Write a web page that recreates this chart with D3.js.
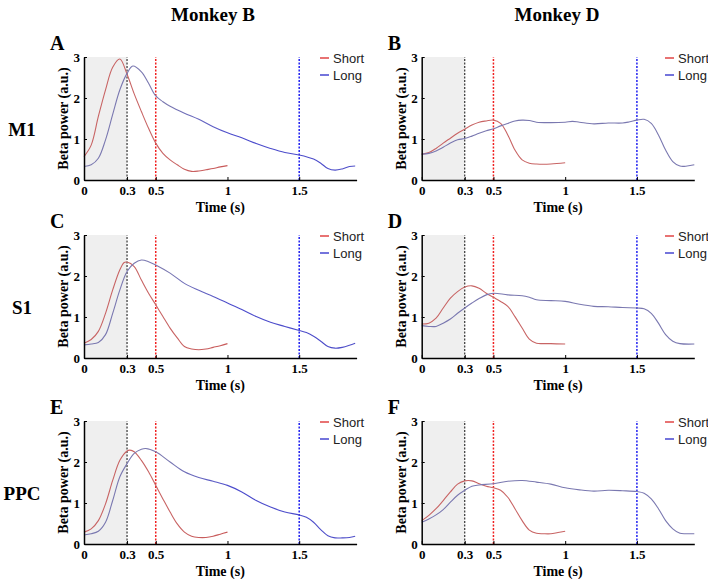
<!DOCTYPE html>
<html><head><meta charset="utf-8">
<script src="https://cdn.jsdelivr.net/npm/d3@7"></script>
<style>
body{margin:0;background:#fff;}
svg{display:block;}
</style></head>
<body>
<svg id="chart" width="708" height="579"></svg>
<script>
const monkeys = ["Monkey B", "Monkey D"];
const regions = ["M1", "S1", "PPC"];
const panelLetters = ["A", "B", "C", "D", "E", "F"];
const seriesNames = ["Short", "Long"];
const xTicks = [0, 0.3, 0.5, 1, 1.5];
const xTickLabels = ["0", "0.3", "0.5", "1", "1.5"];
const yTicks = [0, 1, 2, 3];
const markers = [0.3, 0.5, 1.5];

// Short series [time, value]
const shortA = [[0,0.57],[0.05,0.85],[0.1,1.55],[0.15,2.2],[0.2,2.75],[0.25,2.95],[0.3,2.58],[0.35,2.1],[0.4,1.67],[0.45,1.26],[0.5,0.9],[0.55,0.65],[0.6,0.49],[0.65,0.37],[0.7,0.26],[0.75,0.21],[0.8,0.22],[0.85,0.25],[0.9,0.28],[0.95,0.32],[1.0,0.35]];
const longA = [[0,0.33],[0.05,0.37],[0.1,0.53],[0.15,0.98],[0.2,1.6],[0.25,2.2],[0.3,2.6],[0.34,2.78],[0.4,2.64],[0.45,2.36],[0.5,2.05],[0.55,1.91],[0.6,1.8],[0.7,1.63],[0.8,1.48],[0.9,1.3],[1.0,1.15],[1.1,1.03],[1.2,0.89],[1.3,0.77],[1.4,0.67],[1.5,0.61],[1.6,0.51],[1.65,0.41],[1.7,0.28],[1.75,0.24],[1.8,0.27],[1.85,0.33],[1.89,0.34]];
const shortB = [[0,0.63],[0.05,0.67],[0.1,0.77],[0.15,0.9],[0.2,1.02],[0.25,1.14],[0.3,1.24],[0.35,1.34],[0.4,1.41],[0.45,1.44],[0.5,1.46],[0.55,1.38],[0.6,1.1],[0.65,0.73],[0.7,0.49],[0.75,0.41],[0.8,0.39],[0.9,0.39],[1.0,0.42]];
const longB = [[0,0.63],[0.05,0.65],[0.1,0.71],[0.15,0.8],[0.2,0.9],[0.25,0.98],[0.3,1.01],[0.35,1.07],[0.4,1.14],[0.45,1.2],[0.5,1.25],[0.55,1.32],[0.6,1.38],[0.65,1.44],[0.7,1.46],[0.75,1.45],[0.8,1.41],[0.9,1.4],[1.0,1.41],[1.05,1.43],[1.1,1.41],[1.2,1.37],[1.3,1.39],[1.4,1.39],[1.45,1.42],[1.5,1.46],[1.55,1.48],[1.6,1.38],[1.65,1.1],[1.7,0.73],[1.75,0.45],[1.8,0.34],[1.85,0.34],[1.9,0.37]];
const shortC = [[0,0.36],[0.05,0.45],[0.1,0.65],[0.15,1.09],[0.2,1.66],[0.25,2.15],[0.28,2.33],[0.3,2.34],[0.35,2.23],[0.4,1.9],[0.45,1.58],[0.5,1.3],[0.55,1.01],[0.6,0.73],[0.65,0.49],[0.7,0.28],[0.75,0.22],[0.8,0.2],[0.85,0.22],[0.9,0.26],[0.95,0.3],[1.0,0.35]];
const longC = [[0,0.32],[0.05,0.34],[0.1,0.38],[0.15,0.57],[0.2,1.09],[0.25,1.66],[0.3,2.11],[0.35,2.31],[0.4,2.39],[0.45,2.35],[0.5,2.27],[0.6,2.07],[0.7,1.82],[0.8,1.65],[0.9,1.5],[1.0,1.34],[1.1,1.18],[1.2,1.01],[1.3,0.87],[1.4,0.77],[1.5,0.67],[1.55,0.62],[1.6,0.53],[1.65,0.41],[1.7,0.28],[1.75,0.24],[1.8,0.26],[1.85,0.31],[1.89,0.36]];
const shortD = [[0,0.83],[0.05,0.85],[0.1,0.97],[0.15,1.22],[0.2,1.46],[0.25,1.62],[0.3,1.73],[0.35,1.76],[0.4,1.7],[0.45,1.58],[0.5,1.48],[0.55,1.38],[0.6,1.26],[0.65,1.01],[0.7,0.73],[0.75,0.46],[0.8,0.36],[0.85,0.35],[0.9,0.35],[1.0,0.34]];
const longD = [[0,0.79],[0.05,0.77],[0.1,0.77],[0.15,0.85],[0.2,0.95],[0.25,1.09],[0.3,1.22],[0.35,1.34],[0.4,1.45],[0.45,1.54],[0.5,1.58],[0.6,1.54],[0.7,1.52],[0.75,1.48],[0.8,1.42],[0.9,1.4],[1.0,1.38],[1.1,1.31],[1.2,1.26],[1.3,1.25],[1.4,1.23],[1.5,1.22],[1.55,1.2],[1.6,1.09],[1.65,0.85],[1.7,0.57],[1.75,0.41],[1.8,0.35],[1.9,0.34]];
const shortE = [[0,0.29],[0.05,0.37],[0.1,0.57],[0.15,0.98],[0.2,1.55],[0.25,2.04],[0.3,2.27],[0.32,2.29],[0.35,2.25],[0.4,2.04],[0.45,1.76],[0.5,1.43],[0.55,1.1],[0.6,0.78],[0.65,0.49],[0.7,0.29],[0.75,0.19],[0.8,0.16],[0.85,0.16],[0.9,0.19],[0.95,0.24],[1.0,0.29]];
const longE = [[0,0.22],[0.05,0.25],[0.1,0.31],[0.15,0.53],[0.2,1.06],[0.25,1.64],[0.3,1.96],[0.35,2.21],[0.4,2.31],[0.43,2.33],[0.5,2.25],[0.6,2.0],[0.7,1.76],[0.8,1.62],[0.9,1.53],[1.0,1.43],[1.1,1.27],[1.2,1.06],[1.3,0.9],[1.4,0.78],[1.5,0.71],[1.55,0.65],[1.6,0.53],[1.65,0.35],[1.7,0.2],[1.75,0.15],[1.8,0.15],[1.85,0.16],[1.89,0.19]];
const shortF = [[0,0.57],[0.05,0.7],[0.1,0.86],[0.15,1.06],[0.2,1.27],[0.25,1.46],[0.3,1.54],[0.35,1.54],[0.4,1.47],[0.45,1.41],[0.5,1.37],[0.55,1.31],[0.6,1.14],[0.65,0.86],[0.7,0.57],[0.75,0.34],[0.8,0.26],[0.85,0.25],[0.9,0.25],[0.95,0.28],[1.0,0.31]];
const longF = [[0,0.53],[0.05,0.61],[0.1,0.71],[0.15,0.84],[0.2,1.02],[0.25,1.19],[0.3,1.31],[0.35,1.41],[0.4,1.44],[0.5,1.47],[0.6,1.53],[0.7,1.55],[0.8,1.51],[0.9,1.46],[1.0,1.37],[1.1,1.32],[1.2,1.29],[1.3,1.31],[1.4,1.3],[1.5,1.28],[1.55,1.24],[1.6,1.1],[1.65,0.86],[1.7,0.57],[1.75,0.37],[1.8,0.26],[1.85,0.25],[1.9,0.25]];

const panelData = [
  [shortA, longA], [shortB, longB],
  [shortC, longC], [shortD, longD],
  [shortE, longE], [shortF, longF]
];

const svg = d3.select("#chart");
const defs = svg.append("defs");
const serif = "'Liberation Serif', 'Times New Roman', serif";
const sans = "'Liberation Sans', Arial, sans-serif";

const colX = [84, 421.7];
const plotW = 272.6;
const rowTop = [57, 235, 421];
const plotH = 123;
const legendX = [320, 665];
const legendColors = ["#e04444", "#4646d0"];
const markerColors = ["#222", "#f02020", "#2020f0"];
const titleCenters = [213, 557];
const shortStops = [[0, "#c86464"], [0.4, "#c85858"], [0.6, "#a87070"], [0.8, "#8c7878"], [1.0, "#8c7c7c"]];
const longStops = [[0, "#7a78b0"], [0.3, "#5e5ec4"], [0.45, "#4a4acc"], [1.45, "#5050c8"], [1.65, "#7a7aa8"], [1.9, "#888898"]];
const stopSets = [shortStops, longStops];

monkeys.forEach((m, i) => {
  svg.append("text").attr("x", titleCenters[i]).attr("y", 21)
    .attr("text-anchor", "middle").attr("font-family", serif)
    .attr("font-weight", "bold").attr("font-size", 19).text(m);
});
regions.forEach((r, i) => {
  svg.append("text").attr("x", 22).attr("y", rowTop[i] + 79)
    .attr("text-anchor", "middle").attr("font-family", serif)
    .attr("font-weight", "bold").attr("font-size", 19).text(r);
});

panelData.forEach((series, p) => {
  const col = p % 2, row = Math.floor(p / 2);
  const g = svg.append("g").attr("transform", `translate(${colX[col]},${rowTop[row]})`);
  const x = d3.scaleLinear().domain([0, 1.9]).range([0, plotW]);
  const y = d3.scaleLinear().domain([0, 3]).range([plotH, 0]);

  g.append("rect").attr("x", x(0)).attr("y", y(3))
    .attr("width", x(0.3) - x(0)).attr("height", y(0) - y(3))
    .attr("fill", "#efefef");

  markers.forEach((m, i) => {
    g.append("line").attr("x1", x(m)).attr("x2", x(m))
      .attr("y1", y(0)).attr("y2", y(3))
      .attr("stroke", markerColors[i]).attr("stroke-width", i === 0 ? 1.1 : 1.5)
      .attr("stroke-dasharray", "2,1.5");
  });

  const line = d3.line().x(d => x(d[0])).y(d => y(d[1])).curve(d3.curveCatmullRom.alpha(0.5));
  series.forEach((s, i) => {
    const gid = `grad${p}_${i}`;
    const grad = defs.append("linearGradient").attr("id", gid)
      .attr("gradientUnits", "userSpaceOnUse")
      .attr("x1", colX[col] + x(0)).attr("x2", colX[col] + x(1.9)).attr("y1", 0).attr("y2", 0);
    stopSets[i].forEach(st => {
      grad.append("stop").attr("offset", st[0] / 1.9).attr("stop-color", st[1]);
    });
    g.append("path").datum(s).attr("d", line)
      .attr("fill", "none").attr("stroke", `url(#${gid})`)
      .attr("stroke-width", 1.1);
  });

  const xAxis = d3.axisBottom(x).tickValues(xTicks).tickFormat((d, i) => xTickLabels[i])
    .tickSizeInner(-3).tickSizeOuter(0).tickPadding(6);
  const yAxis = d3.axisLeft(y).tickValues(yTicks).tickFormat(d3.format("d"))
    .tickSizeInner(-3).tickSizeOuter(0).tickPadding(4);
  const gx = g.append("g").attr("transform", `translate(0,${plotH})`).call(xAxis);
  const gy = g.append("g").call(yAxis);
  [gx, gy].forEach(a => {
    a.select(".domain").attr("stroke", "#000").attr("stroke-width", 1.5);
    a.selectAll(".tick line").attr("stroke", "#000").attr("stroke-width", 1);
    a.selectAll("text").attr("font-family", serif).attr("font-weight", "bold")
      .attr("font-size", 13).attr("fill", "#000");
  });

  g.append("text").attr("x", plotW / 2).attr("y", plotH + 32)
    .attr("text-anchor", "middle").attr("font-family", serif)
    .attr("font-weight", "bold").attr("font-size", 14).text("Time (s)");
  g.append("text").attr("transform", `translate(${-16},${plotH / 2}) rotate(-90)`)
    .attr("text-anchor", "middle").attr("font-family", serif)
    .attr("font-weight", "bold").attr("font-size", 14).text("Beta power (a.u.)");

  g.append("text").attr("x", -34).attr("y", -7)
    .attr("font-family", serif).attr("font-weight", "bold")
    .attr("font-size", 20).text(panelLetters[p]);

  seriesNames.forEach((n, i) => {
    const ly = 1 + i * 17;
    const lx = legendX[col] - colX[col];
    g.append("line").attr("x1", lx).attr("x2", lx + 9)
      .attr("y1", ly).attr("y2", ly)
      .attr("stroke", legendColors[i]).attr("stroke-width", 1.5);
    g.append("text").attr("x", lx + 13).attr("y", ly + 4.5)
      .attr("font-family", sans).attr("font-size", 13).attr("fill", "#222").text(n);
  });
});
</script>
</body></html>
